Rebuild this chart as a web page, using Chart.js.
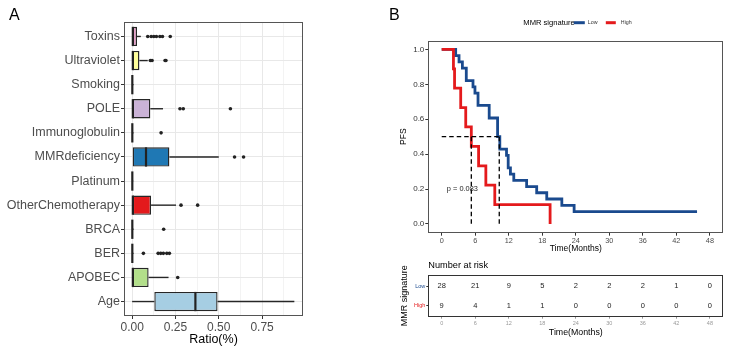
<!DOCTYPE html>
<html><head><meta charset="utf-8">
<script src="https://cdn.jsdelivr.net/npm/chart.js@4.4.1/dist/chart.umd.min.js"></script>
<style>
html,body{margin:0;padding:0;background:#fff;}
#wrap{position:relative;width:731px;height:349px;overflow:hidden;font-family:'Liberation Sans',Arial,sans-serif;background:#fff;}
canvas{position:absolute;}
.lab{position:absolute;font-size:16px;color:#000;line-height:16px;font-family:'Liberation Sans',Arial,sans-serif;}
</style></head><body>
<div id="wrap">
<canvas id="cA" width="320" height="349" style="left:0;top:0"></canvas>
<canvas id="cB" width="351" height="256" style="left:380px;top:0"></canvas>
<canvas id="cC" width="351" height="93" style="left:380px;top:256px"></canvas>
<div class="lab" style="left:9px;top:7px">A</div>
<div class="lab" style="left:389px;top:7px">B</div>
</div>
<script>
// ---------- Panel A data ----------
const categories = ['Toxins','Ultraviolet','Smoking','POLE','Immunoglobulin','MMRdeficiency','Platinum','OtherChemotherapy','BRCA','BER','APOBEC','Age'];
const lowerWhisker = [0, 0, 0, 0, 0, 0, 0, 0, 0, 0, 0, 0.0];
const q1Values     = [0, 0, 0, 0, 0, 0, 0, 0, 0, 0, 0, 0.128];
const medianValues = [0.004, 0.004, 0.001, 0.004, 0.001, 0.08, 0.001, 0.004, 0.001, 0.001, 0.004, 0.365];
const q3Values     = [0.028, 0.042, 0.004, 0.105, 0.004, 0.215, 0.003, 0.109, 0.004, 0.004, 0.095, 0.493];
const upperWhisker = [0.05, 0.09, 0.008, 0.178, 0.008, 0.5, 0.006, 0.253, 0.008, 0.008, 0.21, 0.936];
const outlierCategory = ['Toxins','Toxins','Toxins','Toxins','Toxins','Toxins','Toxins',
  'Ultraviolet','Ultraviolet','Ultraviolet','Ultraviolet',
  'POLE','POLE','POLE','Immunoglobulin','MMRdeficiency','MMRdeficiency',
  'OtherChemotherapy','OtherChemotherapy','BRCA',
  'BER','BER','BER','BER','BER','BER','APOBEC'];
const outlierValue = [0.09,0.11,0.125,0.14,0.16,0.175,0.22,
  0.105,0.115,0.19,0.195,
  0.276,0.295,0.567,0.167,0.591,0.643,
  0.282,0.378,0.182,
  0.065,0.15,0.165,0.18,0.2,0.215,0.263];
const ratioTicks = [0,0.125,0.25,0.375,0.5,0.625,0.75,0.875];
const boxColors = ['#E39AC5','#FFFF99','#FB9A99','#CAB2D6','#6A3D9A','#1F78B4','#FF7F00','#E31A1C','#33A02C','#FDBF6F','#B2DF8A','#A6CEE3'];

// ---------- Panel B data ----------
const lowTime  = [0, 2.5, 3.1, 3.7, 4.4, 5.6, 5.95, 6.5, 8.5, 10.0, 10.4, 11.6, 11.9, 12.3, 12.9, 15.2, 17.0, 18.8, 21.5, 23.7, 45.7];
const lowSurv  = [1, 0.964, 0.929, 0.893, 0.821, 0.786, 0.75, 0.679, 0.607, 0.5, 0.429, 0.393, 0.321, 0.286, 0.25, 0.214, 0.179, 0.143, 0.107, 0.071, 0.071];
const highTime = [0, 2.1, 2.3, 3.4, 4.3, 5.3, 6.6, 7.9, 9.5, 19.4];
const highSurv = [1, 0.889, 0.778, 0.667, 0.556, 0.444, 0.333, 0.222, 0.111, 0];
const medianLow = 10.3;
const medianHigh = 5.3;
const pvalText = 'p = 0.083';
const pvalTime = 3.7;
const pvalSurv = 0.2;
const timeTicks = [0,6,12,18,24,30,36,42,48];
const survTicks = [0,0.2,0.4,0.6,0.8,1.0];
const groupLabels = ['Low','High'];
const riskLow  = [28,21,9,5,2,2,2,1,0];
const riskHigh = [9,4,1,1,0,0,0,0,0];

const FONT = "'Liberation Sans', Arial, sans-serif";
const BLUE = '#1A4A8E';
const RED = '#E41A1C';

function seg(ctx, x1, y1, x2, y2){ctx.beginPath();ctx.moveTo(x1,y1);ctx.lineTo(x2,y2);ctx.stroke();}
function border(chart, color){
  const a = chart.chartArea, ctx = chart.ctx;
  ctx.save(); ctx.strokeStyle = color; ctx.lineWidth = 1;
  ctx.strokeRect(Math.round(a.left)+0.5, Math.round(a.top)+0.5, Math.round(a.right-a.left)-1, Math.round(a.bottom-a.top)-1);
  ctx.restore();
}

// ---------- Panel A ----------
const boxPlugin = {
  id:'boxExtras',
  beforeDatasetsDraw(chart){
    const {ctx, scales:{x,y}} = chart;
    ctx.save(); ctx.strokeStyle='#262626'; ctx.lineWidth=1.4;
    categories.forEach((c,i)=>{
      const yy = y.getPixelForValue(i+1);
      seg(ctx, x.getPixelForValue(lowerWhisker[i]), yy, x.getPixelForValue(q1Values[i]), yy);
      seg(ctx, x.getPixelForValue(q3Values[i]), yy, x.getPixelForValue(upperWhisker[i]), yy);
    });
    ctx.restore();
  },
  afterDatasetsDraw(chart){
    const {ctx, scales:{x,y}} = chart;
    const meta = chart.getDatasetMeta(0);
    ctx.save(); ctx.strokeStyle='#222'; ctx.lineWidth=2.2;
    categories.forEach((c,i)=>{
      const yy = y.getPixelForValue(i+1);
      const h = meta.data[i].height;
      const xm = x.getPixelForValue(medianValues[i]);
      seg(ctx, xm, yy-h/2, xm, yy+h/2);
    });
    ctx.restore();
    border(chart,'#555');
  }
};
const isMajorRatio = v => Math.abs(v/0.25 - Math.round(v/0.25)) < 1e-6;
new Chart(document.getElementById('cA'), {
  type:'bar',
  data:{datasets:[
    {type:'bar', indexAxis:'y', data: categories.map((c,i)=>({x:[q1Values[i], q3Values[i]], y:i+1})),
     backgroundColor: boxColors, borderColor:'#262626', borderWidth:1.4, borderSkipped:false,
     categoryPercentage:0.8, barPercentage:1, order:2},
    {type:'scatter', data: outlierCategory.map((c,i)=>({x:outlierValue[i], y:categories.indexOf(c)+1})),
     pointRadius:1.8, pointBackgroundColor:'#222', pointBorderWidth:0, order:1}
  ]},
  options:{
    indexAxis:'y',
    responsive:false, animation:false, devicePixelRatio:1,
    layout:{padding:{top:22,right:17,left:0,bottom:0}},
    plugins:{legend:{display:false},tooltip:{enabled:false}},
    scales:{
      x:{type:'linear', position:'bottom', min:-0.047, max:0.986, offset:false, beginAtZero:false,
        afterBuildTicks: ax => { ax.ticks = ratioTicks.map(v=>({value:v})); },
        afterFit: ax => { ax.height = 33; },
        ticks:{callback: v => isMajorRatio(v) ? v.toFixed(2) : '', font:{family:FONT,size:12}, color:'#4d4d4d', padding:1, maxRotation:0, autoSkip:false},
        grid:{offset:false, color: c => (c.tick && isMajorRatio(c.tick.value)) ? '#e8e8e8' : '#f3f3f3', lineWidth:1,
              tickLength:3, tickColor: c => (c.tick && isMajorRatio(c.tick.value)) ? '#333' : 'rgba(0,0,0,0)'},
        border:{display:false},
        title:{display:true, text:'Ratio(%)', font:{family:FONT,size:12.5}, color:'#000', padding:{top:0,bottom:2}}
      },
      y:{type:'linear', position:'left', reverse:true, min:0.4, max:12.6, offset:false,
        afterBuildTicks: ax => { ax.ticks = categories.map((c,i)=>({value:i+1})); },
        afterFit: ax => { ax.width = 124; },
        ticks:{callback: v => categories[v-1], font:{family:FONT,size:12.5}, color:'#4d4d4d', padding:1, autoSkip:false},
        grid:{color:'#e8e8e8', lineWidth:1, tickLength:3, tickColor:'#333', offset:false},
        border:{display:false}
      }
    }
  },
  plugins:[boxPlugin]
});

// ---------- Panel B ----------
const kmPlugin = {
  id:'kmExtras',
  afterDraw(chart){
    const {ctx, scales:{x,y}, chartArea:a} = chart;
    border(chart,'#555');
    ctx.save();
    ctx.fillStyle='#222'; ctx.font = '7.4px '+FONT; ctx.textAlign='center'; ctx.textBaseline='middle';
    ctx.fillText(pvalText, x.getPixelForValue(pvalTime), y.getPixelForValue(pvalSurv));
    // legend
    const cx = (a.left+a.right)/2 - 1;
    const ly = 22.7;
    ctx.fillStyle='#000'; ctx.font = '7.6px '+FONT; ctx.textAlign='right';
    ctx.fillText('MMR signature', cx, ly);
    ctx.lineWidth = 3;
    ctx.strokeStyle = BLUE; seg(ctx, cx-1, ly, cx+10, ly);
    ctx.strokeStyle = RED; seg(ctx, cx+31, ly, cx+41, ly);
    ctx.font = '5.3px '+FONT; ctx.textAlign='left'; ctx.fillStyle='#333';
    ctx.fillText(groupLabels[0], cx+13, ly);
    ctx.fillText(groupLabels[1], cx+46, ly);
    ctx.restore();
  }
};
const dashStyle = {borderColor:'#000', borderDash:[4.5,3], borderWidth:1.3, pointRadius:0, fill:false, order:1};
new Chart(document.getElementById('cB'), {
  type:'line',
  data:{datasets:[
    {label:groupLabels[0], data: lowTime.map((t,i)=>({x:t,y:lowSurv[i]})), borderColor:BLUE, borderWidth:2.8, stepped:'before', pointRadius:0, fill:false, order:3},
    {label:groupLabels[1], data: highTime.map((t,i)=>({x:t,y:highSurv[i]})), borderColor:RED, borderWidth:2.8, stepped:'before', pointRadius:0, fill:false, order:2},
    Object.assign({data:[{x:0,y:0.5},{x:medianLow,y:0.5}]}, dashStyle),
    Object.assign({data:[{x:medianHigh,y:0.5},{x:medianHigh,y:0}]}, dashStyle),
    Object.assign({data:[{x:medianLow,y:0.5},{x:medianLow,y:0}]}, dashStyle)
  ]},
  options:{
    responsive:false, animation:false, devicePixelRatio:1,
    layout:{padding:{top:40.7,right:7.7,left:19,bottom:0}},
    plugins:{legend:{display:false},tooltip:{enabled:false}},
    scales:{
      x:{type:'linear', min:-2.4, max:50.4,
        afterBuildTicks: ax => { ax.ticks = timeTicks.map(v=>({value:v})); },
        afterFit: ax => { ax.height = 23.3; },
        ticks:{font:{family:FONT,size:7.3}, color:'#4d4d4d', padding:1, maxRotation:0, autoSkip:false},
        grid:{drawOnChartArea:false, tickLength:3, tickColor:'#333'},
        border:{display:false},
        title:{display:true, text:'Time(Months)', font:{family:FONT,size:8.5}, color:'#000', padding:{top:0,bottom:2}}
      },
      y:{type:'linear', min:-0.05, max:1.05,
        afterBuildTicks: ax => { ax.ticks = survTicks.map(v=>({value:v})); },
        afterFit: ax => { ax.width = 29.3; },
        ticks:{callback: v => v.toFixed(1), font:{family:FONT,size:8}, color:'#333', padding:1, autoSkip:false},
        grid:{drawOnChartArea:false, tickLength:3, tickColor:'#333'},
        border:{display:false},
        title:{display:true, text:'PFS', font:{family:FONT,size:8.5}, color:'#000', padding:{top:0,bottom:0}}
      }
    }
  },
  plugins:[kmPlugin]
});

// ---------- Risk table ----------
const riskPlugin = {
  id:'riskTable',
  afterDraw(chart){
    const {ctx, scales:{x,y}, chartArea:a} = chart;
    border(chart,'#333');
    ctx.save();
    ctx.fillStyle='#000'; ctx.font='9.2px '+FONT; ctx.textAlign='left'; ctx.textBaseline='middle';
    ctx.fillText('Number at risk', a.left, 9);
    ctx.font='7.5px '+FONT; ctx.textAlign='center'; ctx.fillStyle='#222';
    timeTicks.forEach((t,i)=>{
      ctx.fillText(String(riskLow[i]), x.getPixelForValue(t), y.getPixelForValue(1));
      ctx.fillText(String(riskHigh[i]), x.getPixelForValue(t), y.getPixelForValue(2));
    });
    ctx.restore();
  }
};
new Chart(document.getElementById('cC'), {
  type:'scatter',
  data:{datasets:[{data: timeTicks.map(t=>({x:t,y:1})), pointRadius:0}, {data: timeTicks.map(t=>({x:t,y:2})), pointRadius:0}]},
  options:{
    responsive:false, animation:false, devicePixelRatio:1,
    layout:{padding:{top:19,right:7.7,left:19.5,bottom:11}},
    plugins:{legend:{display:false},tooltip:{enabled:false}},
    scales:{
      x:{type:'linear', min:-2.4, max:50.4,
        afterBuildTicks: ax => { ax.ticks = timeTicks.map(v=>({value:v})); },
        afterFit: ax => { ax.height = 21.3; },
        ticks:{font:{family:FONT,size:5.5}, color:'#999', padding:1, maxRotation:0, autoSkip:false},
        grid:{drawOnChartArea:false, tickLength:2, tickColor:'#999'},
        border:{display:false},
        title:{display:true, text:'Time(Months)', font:{family:FONT,size:8.8}, color:'#000', padding:{top:0,bottom:0}}
      },
      y:{type:'linear', min:0.43, max:2.57, reverse:true,
        afterBuildTicks: ax => { ax.ticks = [{value:1},{value:2}]; },
        afterFit: ax => { ax.width = 28.8; },
        ticks:{callback: v => groupLabels[v-1], font:{family:FONT,size:5.5}, color: c => (c.tick && c.tick.value===1) ? BLUE : RED, padding:1, autoSkip:false},
        grid:{drawOnChartArea:false, tickLength:2, tickColor:'#333'},
        border:{display:false},
        title:{display:true, text:'MMR signature', font:{family:FONT,size:9}, color:'#000', padding:{top:0,bottom:0}}
      }
    }
  },
  plugins:[riskPlugin]
});
</script>
</body></html>
